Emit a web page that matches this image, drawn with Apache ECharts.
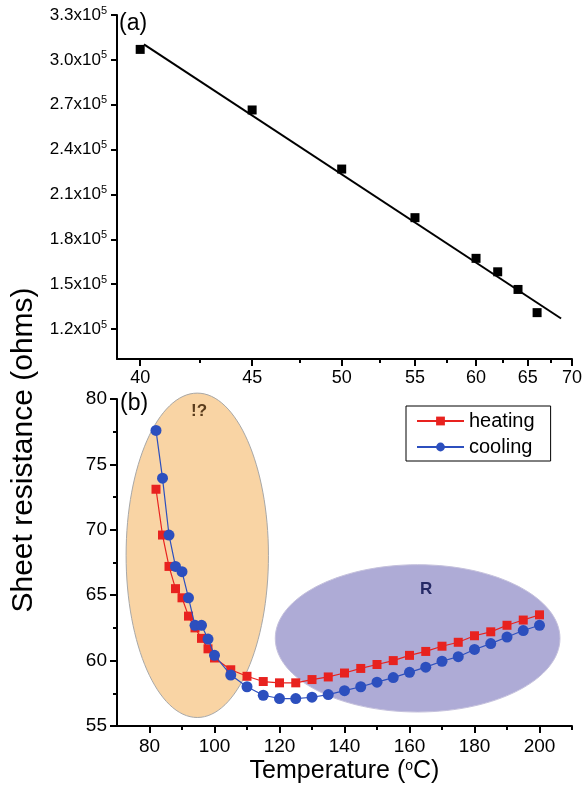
<!DOCTYPE html>
<html lang="en">
<head>
    <meta charset="UTF-8">
    <title>Sheet resistance</title>
    <script src="https://cdn.jsdelivr.net/npm/echarts@6/dist/echarts.min.js"></script>
    <style>
        html, body { margin: 0; padding: 0; background: #fff; }
        #chart { width: 585px; height: 785px; }
    </style>
</head>
<body>
<div id="chart"></div>
<script>
    // panel (a): resistance vs temperature, x axis is drawn in 1/T
    var tempA = [40, 45, 50, 55, 60, 62, 64, 66];
    var resA = [3.07e5, 2.665e5, 2.27e5, 1.945e5, 1.673e5, 1.583e5, 1.465e5, 1.31e5];
    var fitT = [40.15, 68.7];
    var fitR = [3.104e5, 1.271e5];
    var tickA = [40, 45, 50, 55, 60, 65, 70];
    var minorA = [42.5, 47.5, 52.5, 57.5, 62.5, 67.5];
    var yTickA = [1.2e5, 1.5e5, 1.8e5, 2.1e5, 2.4e5, 2.7e5, 3.0e5, 3.3e5];

    // panel (b): heating / cooling cycle
    var tempB = [82, 84, 86, 88, 90, 92, 94, 96, 98, 100, 105, 110, 115, 120, 125, 130, 135, 140,
        145, 150, 155, 160, 165, 170, 175, 180, 185, 190, 195, 200];
    var heating = [73.1, 69.6, 67.2, 65.5, 64.8, 63.4, 62.5, 61.7, 60.9, 60.2, 59.3, 58.8, 58.4, 58.3,
        58.3, 58.55, 58.75, 59.05, 59.4, 59.7, 60.0, 60.4, 60.7, 61.1, 61.4, 61.9, 62.2, 62.7, 63.1, 63.5];
    var cooling = [77.6, 73.95, 69.6, 67.2, 66.8, 64.8, 62.7, 62.7, 61.65, 60.4, 58.9, 58.0, 57.35, 57.1,
        57.1, 57.2, 57.4, 57.7, 58.0, 58.35, 58.7, 59.1, 59.5, 59.95, 60.3, 60.85, 61.3, 61.8, 62.3, 62.7];
    var tickB = [80, 100, 120, 140, 160, 180, 200];
    var minorB = [90, 110, 130, 150, 170, 190, 210];
    // ellipses: [centre T, centre R, radius T, radius R]
    var regions = [[94.7, 68.05, 21.9, 12.4], [162.5, 61.7, 43.8, 5.63]];
    var regionColors = ['#f9d4a4', '#aeabd6'];
    var regionBorders = ['#a8a8a8', '#c4c0dc'];

    var FONT = '"Liberation Sans", Arial, sans-serif';
    var inv = function (t) { return 1 / t; };

    var myChart = echarts.init(document.getElementById('chart'));

    var blackLine = { show: true, lineStyle: { color: '#000', width: 2 } };
    var tick = function (len, vals) {
        var t = { show: true, length: len, lineStyle: { width: 2, color: '#000' } };
        if (vals) t.customValues = vals;
        return t;
    };

    var option = {
        backgroundColor: '#fff',
        animation: false,
        textStyle: { fontFamily: FONT },
        grid: [
            { left: 117, top: 15, width: 455, height: 344 },
            { left: 117, top: 399, width: 455, height: 328 }
        ],
        legend: {
            data: ['heating', 'cooling'],
            orient: 'vertical',
            left: 406,
            top: 406,
            padding: [5, 16, 4, 10],
            itemGap: 6,
            itemWidth: 47,
            itemHeight: 11,
            borderColor: '#000',
            borderWidth: 1,
            textStyle: { fontSize: 20, color: '#000', fontFamily: FONT }
        },
        xAxis: [
            {
                type: 'value', gridIndex: 0, inverse: true,
                min: inv(70), max: inv(39.1),
                axisLine: blackLine,
                axisTick: tick(7, tickA.map(inv)),
                axisLabel: { customValues: tickA.map(inv), fontSize: 18, color: '#000', margin: 10,
                    formatter: function (v) { return Math.round(1 / v); } },
                splitLine: { show: false }
            },
            {
                type: 'value', gridIndex: 0, inverse: true, position: 'bottom',
                min: inv(70), max: inv(39.1),
                axisLine: { show: false },
                axisTick: tick(4, minorA.map(inv)),
                axisLabel: { show: false },
                splitLine: { show: false }
            },
            {
                type: 'value', gridIndex: 1, min: 70, max: 210,
                axisLine: blackLine,
                axisTick: tick(7, tickB),
                axisLabel: { customValues: tickB, fontSize: 19, color: '#000', margin: 11 },
                splitLine: { show: false },
                name: 'Temperature ({s|o}C)',
                nameLocation: 'middle',
                nameGap: 33,
                nameTextStyle: {
                    fontSize: 25, color: '#000', fontFamily: FONT,
                    rich: { s: { fontSize: 14, verticalAlign: 'top', lineHeight: 14, fontFamily: FONT } }
                }
            },
            {
                type: 'value', gridIndex: 1, min: 70, max: 210, position: 'bottom',
                axisLine: { show: false },
                axisTick: tick(4, minorB),
                axisLabel: { show: false },
                splitLine: { show: false }
            }
        ],
        yAxis: [
            {
                type: 'value', gridIndex: 0, min: 1.0e5, max: 3.3e5,
                axisLine: blackLine,
                axisTick: tick(6, yTickA),
                axisLabel: {
                    customValues: yTickA, color: '#000', margin: 10,
                    formatter: function (v) { return '{m|' + (v / 1e5).toFixed(1) + 'x10}{s|5}'; },
                    rich: {
                        m: { fontSize: 17, lineHeight: 20, color: '#000', fontFamily: FONT },
                        s: { fontSize: 11, lineHeight: 10, verticalAlign: 'top', color: '#000', fontFamily: FONT }
                    }
                },
                splitLine: { show: false }
            },
            {
                type: 'value', gridIndex: 1, min: 55, max: 80, interval: 5,
                axisLine: blackLine,
                axisTick: tick(7),
                minorTick: { show: true, splitNumber: 2, length: 4, lineStyle: { width: 2, color: '#000' } },
                axisLabel: { fontSize: 19, color: '#000', margin: 10 },
                splitLine: { show: false }
            }
        ],
        graphic: [
            { type: 'text', left: 119, top: 12, style: { text: '(a)', fontSize: 23, fill: '#000', fontFamily: FONT } },
            { type: 'text', left: 120, top: 392, style: { text: '(b)', fontSize: 23, fill: '#000', fontFamily: FONT } },
            { type: 'text', left: 191, top: 403, z: 100, style: { text: '!?', fontSize: 17, fontWeight: 'bold', fill: '#5a3c1c', fontFamily: FONT } },
            { type: 'text', left: 420, top: 581, z: 100, style: { text: 'R', fontSize: 17, fontWeight: 'bold', fill: '#262a66', fontFamily: FONT } },
            {
                type: 'text', x: 24, y: 450, rotation: Math.PI / 2,
                style: { text: 'Sheet resistance (ohms)', fontSize: 30, fill: '#000', fontFamily: FONT,
                    align: 'center', verticalAlign: 'middle' }
            }
        ],
        series: [
            {
                name: 'data', type: 'scatter', xAxisIndex: 0, yAxisIndex: 0,
                symbol: 'rect', symbolSize: 9,
                itemStyle: { color: '#000', opacity: 1 },
                data: tempA.map(function (t, i) { return [inv(t), resA[i]]; })
            },
            {
                name: 'fit', type: 'line', xAxisIndex: 0, yAxisIndex: 0,
                showSymbol: false, symbol: 'none',
                lineStyle: { color: '#000', width: 2 },
                data: fitT.map(function (t, i) { return [inv(t), fitR[i]]; })
            },
            {
                name: 'regions', type: 'custom', xAxisIndex: 2, yAxisIndex: 1,
                z: 1, silent: true,
                encode: { x: 0, y: 1 },
                renderItem: function (params, api) {
                    var c = api.coord([api.value(0), api.value(1)]);
                    var s = api.size([api.value(2), api.value(3)]);
                    var k = params.dataIndex;
                    return {
                        type: 'ellipse',
                        shape: { cx: c[0], cy: c[1], rx: s[0], ry: s[1] },
                        style: { fill: regionColors[k], stroke: regionBorders[k], lineWidth: 1 }
                    };
                },
                data: regions
            },
            {
                name: 'heating', type: 'line', xAxisIndex: 2, yAxisIndex: 1, z: 3,
                symbol: 'rect', symbolSize: 9,
                itemStyle: { color: '#e8221f' },
                lineStyle: { color: '#e8221f', width: 1.2 },
                data: tempB.map(function (t, i) { return [t, heating[i]]; })
            },
            {
                name: 'cooling', type: 'line', xAxisIndex: 2, yAxisIndex: 1, z: 4,
                symbol: 'circle', symbolSize: 11,
                itemStyle: { color: '#2c4fbe' },
                lineStyle: { color: '#2c4fbe', width: 1.2 },
                data: tempB.map(function (t, i) { return [t, cooling[i]]; })
            }
        ]
    };
    myChart.setOption(option);
</script>
</body>
</html>
